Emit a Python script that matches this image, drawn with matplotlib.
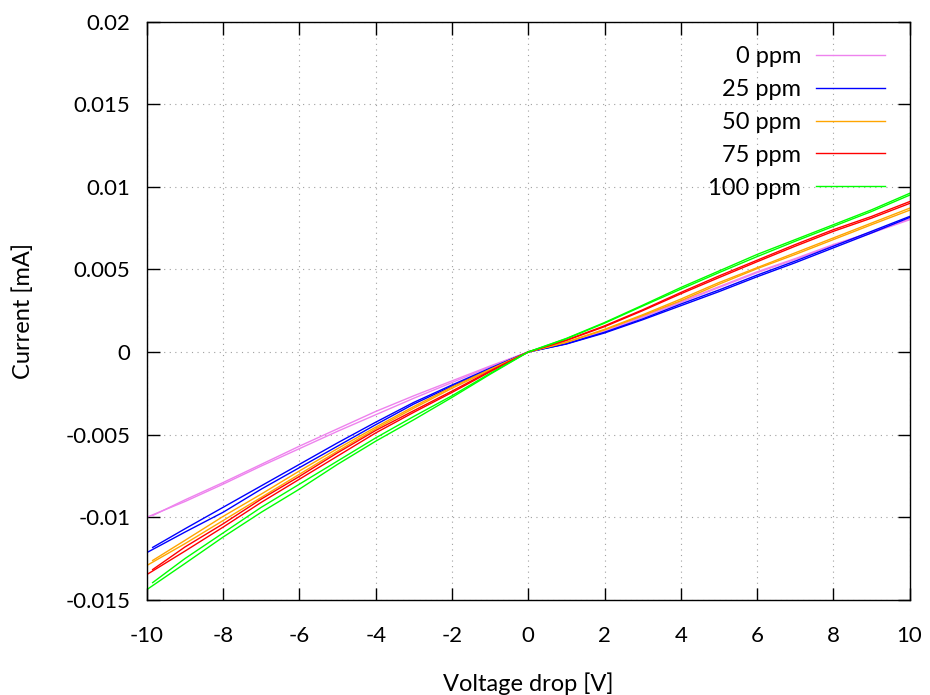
import matplotlib
matplotlib.use("Agg")
import matplotlib.pyplot as plt

plt.rcParams["font.family"] = ["Lato", "DejaVu Sans"]
plt.rcParams["axes.unicode_minus"] = False

# voltage points of the two sweeps (first sweep starts slightly later)
volt_a = [-9.85, -9, -8, -7, -6, -5, -4, -3, -2, -1, 0, 1, 2, 3, 4, 5, 6, 7, 8, 9, 10]
volt_b = [-10, -9, -8, -7, -6, -5, -4, -3, -2, -1, 0, 1, 2, 3, 4, 5, 6, 7, 8, 9, 10]

labels = ["0 ppm", "25 ppm", "50 ppm", "75 ppm", "100 ppm"]
colors = ["#ee82ee", "#0000ff", "#ffa500", "#ff0000", "#00ff00"]

# current [mA], sweep a / sweep b
cur_0_a = [-0.0099, -0.00895, -0.0079, -0.0068, -0.0057, -0.00465, -0.0036, -0.00265, -0.00175, -0.00085, 0,
           0.0005, 0.0012, 0.0021, 0.0030, 0.0039, 0.0048, 0.0056, 0.00645, 0.0072, 0.0080]
cur_0_b = [-0.0100, -0.00905, -0.0080, -0.0069, -0.00585, -0.0048, -0.0038, -0.0028, -0.00185, -0.0009, 0,
           0.00052, 0.00125, 0.00215, 0.00305, 0.00395, 0.00485, 0.00565, 0.0065, 0.00725, 0.00805]
cur_25_a = [-0.01183, -0.0107, -0.0094, -0.0081, -0.0068, -0.0055, -0.00425, -0.00305, -0.0020, -0.00098, 0,
            0.00048, 0.00115, 0.00195, 0.0028, 0.00365, 0.00455, 0.0054, 0.0063, 0.0072, 0.00814]
cur_25_b = [-0.01214, -0.0109, -0.0097, -0.0083, -0.0070, -0.0057, -0.0044, -0.00315, -0.00207, -0.00102, 0,
            0.0005, 0.00119, 0.0020, 0.0029, 0.00375, 0.00465, 0.0055, 0.0064, 0.0073, 0.0082]
cur_50_a = [-0.01262, -0.0114, -0.00995, -0.0086, -0.0072, -0.00585, -0.00455, -0.0033, -0.00212, -0.00105, 0,
            0.00058, 0.00133, 0.0022, 0.0031, 0.0041, 0.00504, 0.0059, 0.0068, 0.0077, 0.00858]
cur_50_b = [-0.01292, -0.0116, -0.0102, -0.0088, -0.0074, -0.0060, -0.00465, -0.0034, -0.0022, -0.0011, 0,
            0.0006, 0.00137, 0.00225, 0.0032, 0.0042, 0.0051, 0.0060, 0.0069, 0.0078, 0.0087]
cur_75_a = [-0.01317, -0.0118, -0.0104, -0.0089, -0.00753, -0.0061, -0.00475, -0.00355, -0.00237, -0.00115, 0,
            0.0007, 0.00153, 0.0025, 0.00352, 0.0045, 0.00546, 0.0064, 0.0073, 0.0081, 0.00899]
cur_75_b = [-0.01347, -0.01205, -0.0106, -0.0091, -0.0077, -0.0063, -0.0049, -0.00365, -0.00245, -0.0012, 0,
            0.00072, 0.00158, 0.00255, 0.0036, 0.0046, 0.00555, 0.0065, 0.0074, 0.0082, 0.0091]
cur_100_a = [-0.01396, -0.0125, -0.01095, -0.0094, -0.0080, -0.0066, -0.0052, -0.0039, -0.00265, -0.0013, 0,
             0.0008, 0.00174, 0.00278, 0.0038, 0.0048, 0.00577, 0.0067, 0.0076, 0.0085, 0.00949]
cur_100_b = [-0.01438, -0.0128, -0.0112, -0.0097, -0.0083, -0.0068, -0.0054, -0.0041, -0.00275, -0.00135, 0,
             0.00082, 0.00178, 0.00283, 0.0039, 0.0049, 0.0059, 0.0068, 0.0077, 0.0086, 0.0096]

series_a = [cur_0_a, cur_25_a, cur_50_a, cur_75_a, cur_100_a]
series_b = [cur_0_b, cur_25_b, cur_50_b, cur_75_b, cur_100_b]

xticks = [-10, -8, -6, -4, -2, 0, 2, 4, 6, 8, 10]
yticks = [-0.015, -0.01, -0.005, 0, 0.005, 0.01, 0.015, 0.02]
ytick_labels = ["-0.015", "-0.01", "-0.005", "0", "0.005", "0.01", "0.015", "0.02"]

fig = plt.figure(figsize=(9.3, 6.95), dpi=100)
ax = fig.add_axes([0.158, 0.137, 0.820, 0.832])

for lab, col, ya, yb in zip(labels, colors, series_a, series_b):
    ax.plot(volt_a, ya, color=col, lw=1.0, label=lab)
    ax.plot(volt_b, yb, color=col, lw=1.0)

ax.set_xlim(-10, 10)
ax.set_ylim(-0.015, 0.02)
ax.set_xticks(xticks)
ax.set_xticklabels([str(v) for v in xticks])
ax.set_yticks(yticks)
ax.set_yticklabels(ytick_labels)
ax.tick_params(direction="in", length=9, width=1.0, top=True, right=True,
               labelsize=16, color="black")
ax.tick_params(axis="x", pad=19)
ax.tick_params(axis="y", pad=12)
ax.grid(True, linestyle=(0, (1, 4)), color="#a0a0a0", lw=0.8)
for sp in ax.spines.values():
    sp.set_linewidth(1.0)

ax.set_xlabel("Voltage drop [V]", fontsize=17)
ax.set_ylabel("Current [mA]", fontsize=17)
ax.xaxis.set_label_coords(0.5, -0.125)
ax.yaxis.set_label_coords(-0.148, 0.5)

ax.legend(loc="upper right", frameon=False, markerfirst=False, fontsize=17,
          handlelength=2.9, handletextpad=0.65, labelspacing=0.5,
          borderaxespad=0.65)

fig.savefig("out.png", dpi=100)
